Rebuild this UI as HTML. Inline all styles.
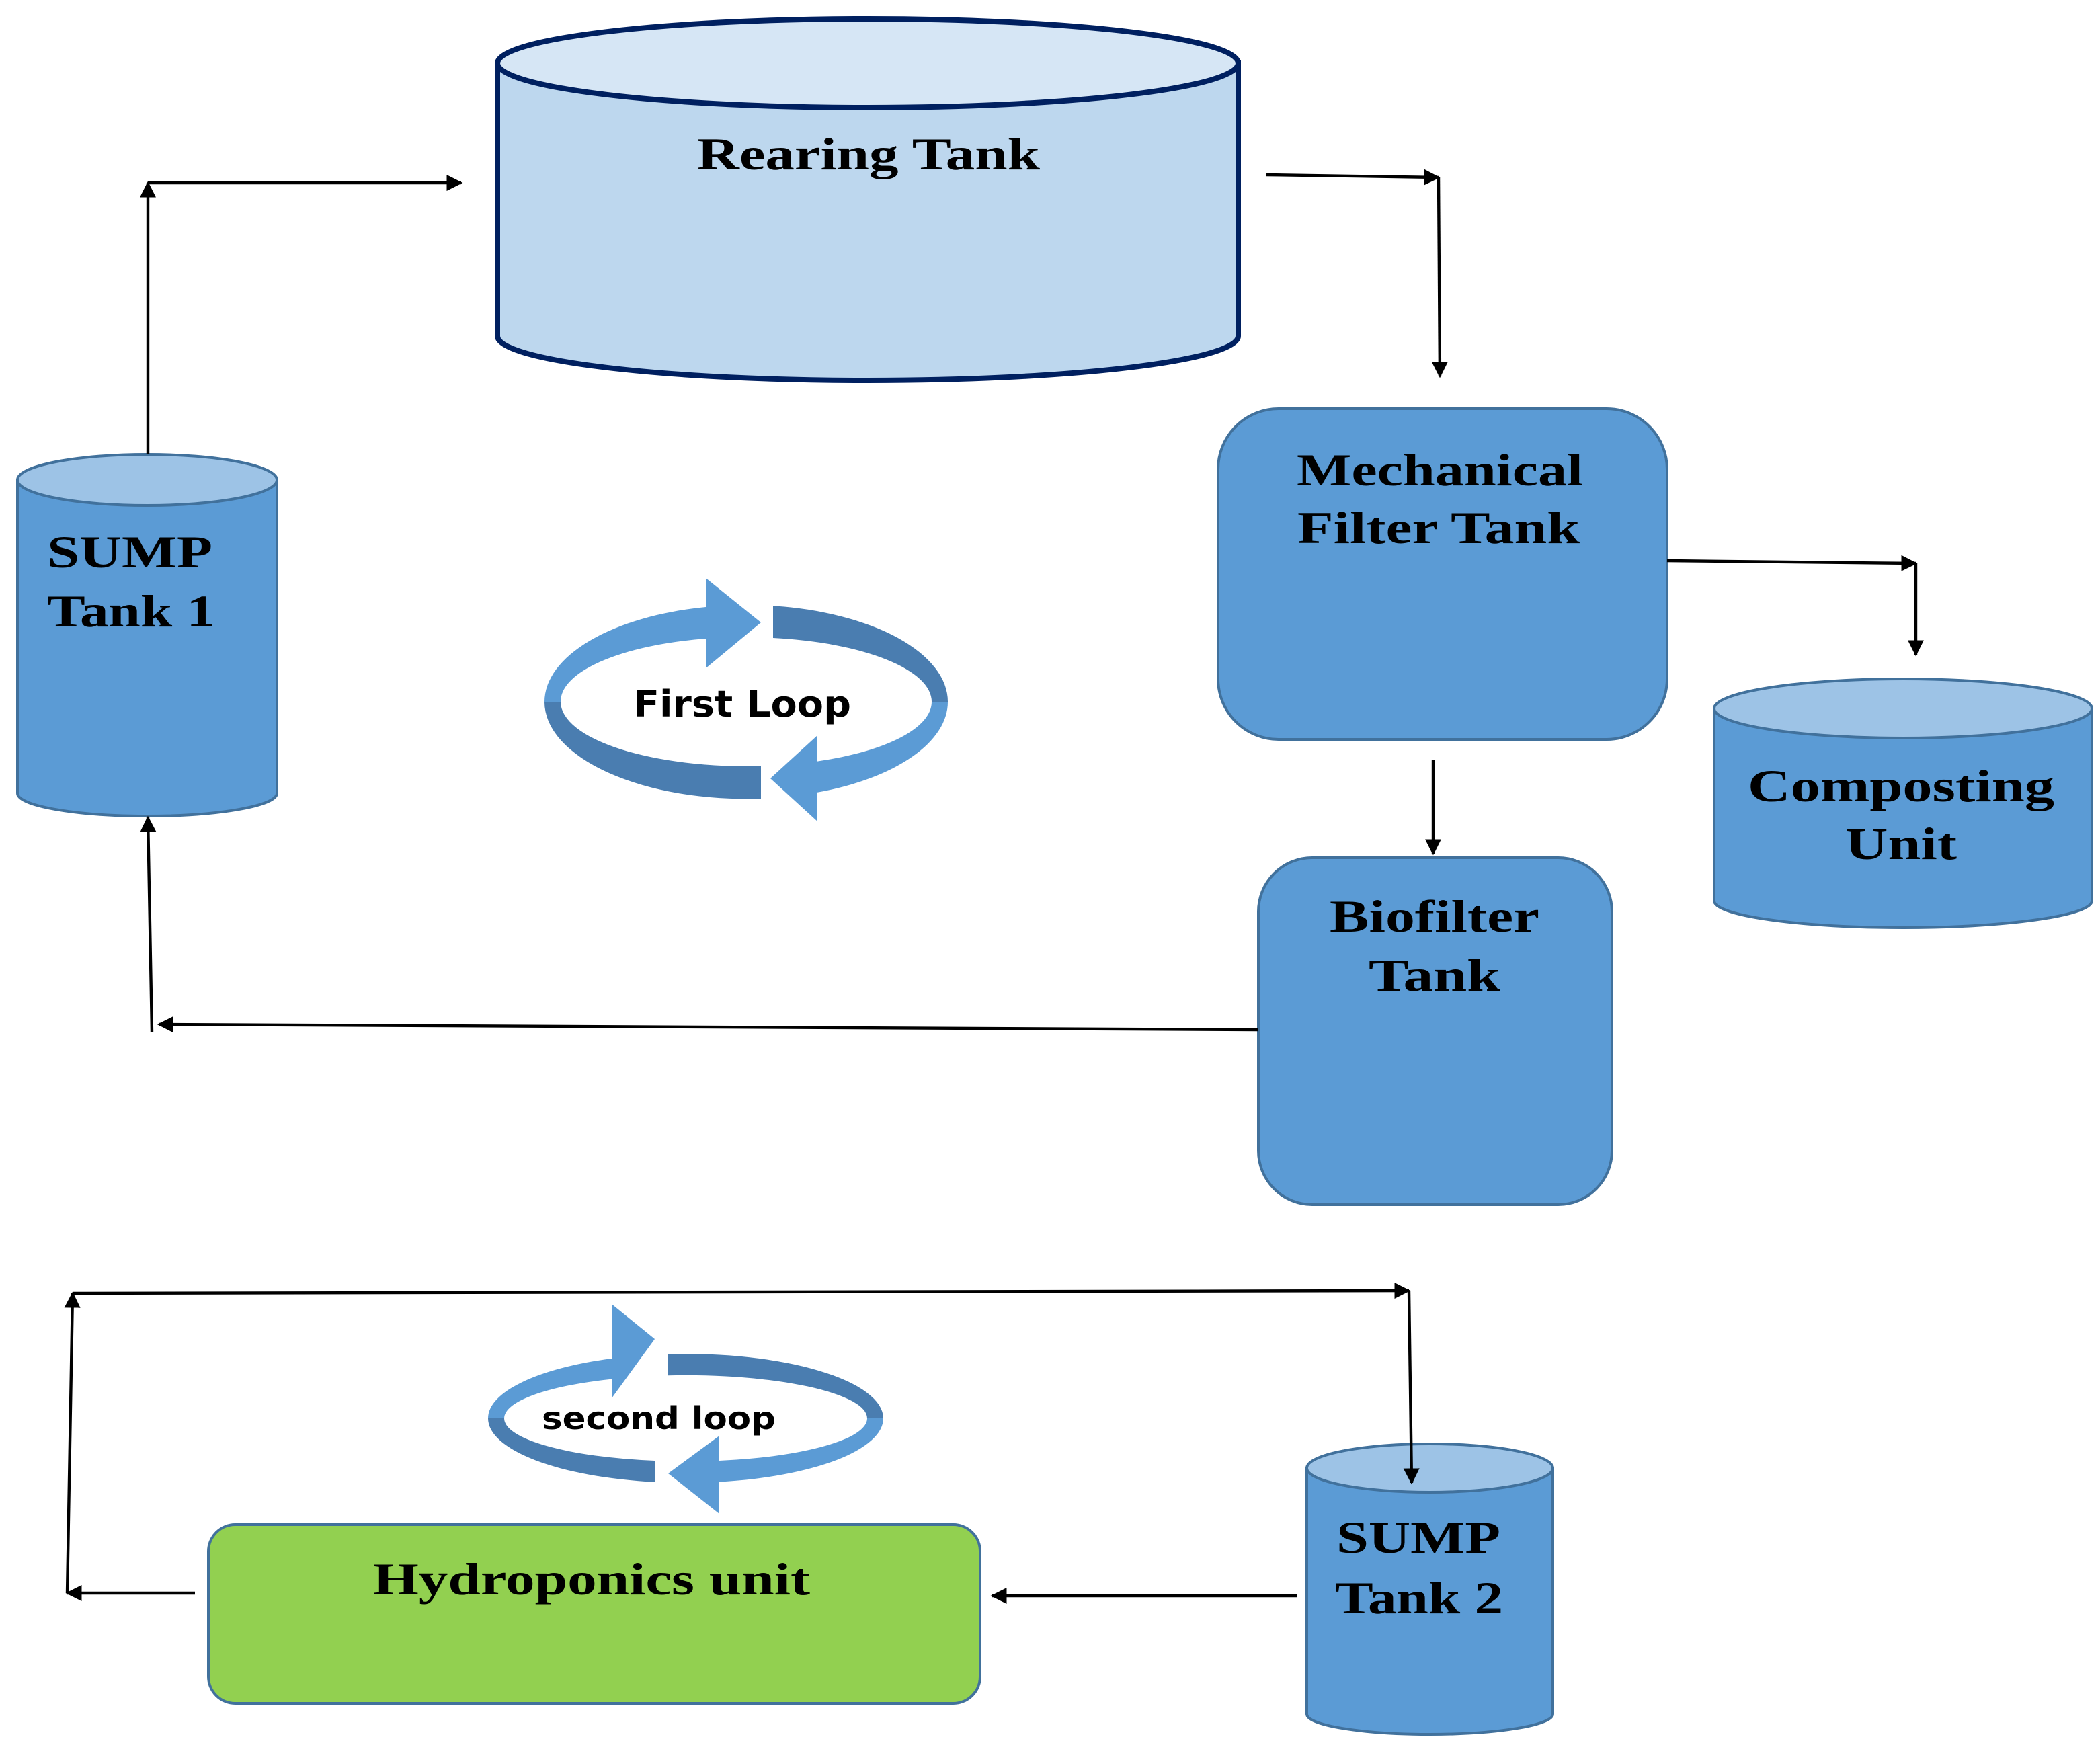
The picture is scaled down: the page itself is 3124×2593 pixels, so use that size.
<!DOCTYPE html>
<html><head><meta charset="utf-8"><style>
html,body{margin:0;padding:0;background:#fff}
svg{display:block}
.s{font-family:"Liberation Serif",serif;font-weight:bold;font-size:34px;fill:#000}
.l{font-family:"DejaVu Sans","Liberation Sans",sans-serif;font-weight:bold;fill:#000}
</style></head><body>
<svg width="3124" height="2593" viewBox="0 0 1562 1296.5" xmlns="http://www.w3.org/2000/svg">
<defs>
<marker id="a" viewBox="0 0 10 10" refX="9" refY="5" markerWidth="12" markerHeight="12" markerUnits="userSpaceOnUse" orient="auto">
<path d="M0,0 L10,5 L0,10 Z" fill="#000"/></marker>
</defs>
<rect width="1562" height="1296.5" fill="#fff"/>

<!-- Rearing tank -->
<path d="M370,47 L370,250 A275.5,33 0 0,0 921,250 L921,47 Z" fill="#bdd7ee" stroke="#002060" stroke-width="4"/>
<ellipse cx="645.5" cy="47" rx="275.5" ry="33" fill="#d6e6f5" stroke="#002060" stroke-width="4"/>
<text class="s" x="646" y="126" text-anchor="middle" textLength="255" lengthAdjust="spacingAndGlyphs">Rearing Tank</text>

<!-- Mechanical filter -->
<rect x="906" y="304" width="334" height="246" rx="45" fill="#5b9bd5" stroke="#41719c" stroke-width="2"/>
<text class="s" x="1071" y="361" text-anchor="middle" textLength="213" lengthAdjust="spacingAndGlyphs">Mechanical</text>
<text class="s" x="1070" y="404" text-anchor="middle" textLength="210" lengthAdjust="spacingAndGlyphs">Filter Tank</text>

<!-- Composting -->
<path d="M1275,527 L1275,670 A140.5,20 0 0,0 1556,670 L1556,527 Z" fill="#5b9bd5" stroke="#41719c" stroke-width="2"/>
<ellipse cx="1415.5" cy="527" rx="140.5" ry="22" fill="#9dc3e6" stroke="#41719c" stroke-width="2"/>
<text class="s" x="1414" y="596" text-anchor="middle" textLength="228" lengthAdjust="spacingAndGlyphs">Composting</text>
<text class="s" x="1414" y="639" text-anchor="middle" textLength="83" lengthAdjust="spacingAndGlyphs">Unit</text>

<!-- Biofilter -->
<rect x="936" y="638" width="263" height="258" rx="40" fill="#5b9bd5" stroke="#41719c" stroke-width="2"/>
<text class="s" x="1067" y="693" text-anchor="middle" textLength="156" lengthAdjust="spacingAndGlyphs">Biofilter</text>
<text class="s" x="1067" y="737" text-anchor="middle" textLength="98" lengthAdjust="spacingAndGlyphs">Tank</text>

<!-- SUMP 1 -->
<path d="M13,357 L13,590 A96.5,17 0 0,0 206,590 L206,357 Z" fill="#5b9bd5" stroke="#41719c" stroke-width="2"/>
<ellipse cx="109.5" cy="357" rx="96.5" ry="19" fill="#9dc3e6" stroke="#41719c" stroke-width="2"/>
<text class="s" x="35" y="422" textLength="123" lengthAdjust="spacingAndGlyphs">SUMP</text>
<text class="s" x="35" y="466" textLength="125" lengthAdjust="spacingAndGlyphs">Tank 1</text>

<!-- SUMP 2 -->
<path d="M972,1092 L972,1275 A91.5,15 0 0,0 1155,1275 L1155,1092 Z" fill="#5b9bd5" stroke="#41719c" stroke-width="2"/>
<ellipse cx="1063.5" cy="1092" rx="91.5" ry="18" fill="#9dc3e6" stroke="#41719c" stroke-width="2"/>
<text class="s" x="994" y="1155" textLength="122" lengthAdjust="spacingAndGlyphs">SUMP</text>
<text class="s" x="993" y="1200" textLength="125" lengthAdjust="spacingAndGlyphs">Tank 2</text>

<!-- Hydroponics -->
<rect x="155" y="1134" width="574" height="133" rx="20" fill="#92d050" stroke="#41719c" stroke-width="2"/>
<text class="s" x="440" y="1186" text-anchor="middle" textLength="325" lengthAdjust="spacingAndGlyphs">Hydroponics unit</text>

<!-- connectors -->
<g stroke="#000" stroke-width="2.2" fill="none">
<polyline points="110,338 110,136" marker-end="url(#a)"/>
<polyline points="110,136 343,136" marker-end="url(#a)"/>
<polyline points="942,130 1070,132" marker-end="url(#a)"/>
<polyline points="1070,132 1071,280" marker-end="url(#a)"/>
<polyline points="1240,417 1425,419" marker-end="url(#a)"/>
<polyline points="1425,419 1425,487" marker-end="url(#a)"/>
<polyline points="1066,565 1066,635" marker-end="url(#a)"/>
<polyline points="936,766 118,762" marker-end="url(#a)"/>
<polyline points="113,768 110,608" marker-end="url(#a)"/>
<polyline points="54,962 1048,960" marker-end="url(#a)"/>
<polyline points="1048,960 1050,1103" marker-end="url(#a)"/>
<polyline points="145,1185 50,1185" marker-end="url(#a)"/>
<polyline points="50,1185 54,962" marker-end="url(#a)"/>
<polyline points="965,1187 738,1187" marker-end="url(#a)"/>
</g>

<!-- First loop -->
<g>
<path d="M405,522 A150,72 0 0,1 525,451.5 L525,430 L566,463 L525,497 L525,475 A138,48 0 0,0 417,522 Z" fill="#5b9bd5"/>
<path d="M575,450.6 A150,72 0 0,1 705,522 L693,522 A138,48 0 0,0 575,474.5 Z" fill="#4a7db0"/>
<path d="M705,522 A150,72 0 0,1 608,589.4 L608,611 L573,579 L608,547 L608,566.3 A138,48 0 0,0 693,522 Z" fill="#5b9bd5"/>
<path d="M566,594 A150,72 0 0,1 405,522 L417,522 A138,48 0 0,0 566,569.8 Z" fill="#4a7db0"/>
<text class="l" x="552" y="533" font-size="27" text-anchor="middle" textLength="162" lengthAdjust="spacingAndGlyphs">First Loop</text>
</g>

<!-- Second loop -->
<g>
<path d="M363,1055 A147,48 0 0,1 455,1010.5 L455,970 L487,996 L455,1040 L455,1025.8 A135,32 0 0,0 375,1055 Z" fill="#5b9bd5"/>
<path d="M497,1007.2 A147,48 0 0,1 657,1055 L645,1055 A135,32 0 0,0 497,1023.1 Z" fill="#4a7db0"/>
<path d="M657,1055 A147,48 0 0,1 535,1102.3 L535,1126 L497,1096 L535,1068 L535,1086.5 A135,32 0 0,0 645,1055 Z" fill="#5b9bd5"/>
<path d="M487,1102.4 A147,48 0 0,1 363,1055 L375,1055 A135,32 0 0,0 487,1086.5 Z" fill="#4a7db0"/>
<text class="l" x="490" y="1063" font-size="23" text-anchor="middle" textLength="174" lengthAdjust="spacingAndGlyphs">second loop</text>
</g>
</svg>
</body></html>
